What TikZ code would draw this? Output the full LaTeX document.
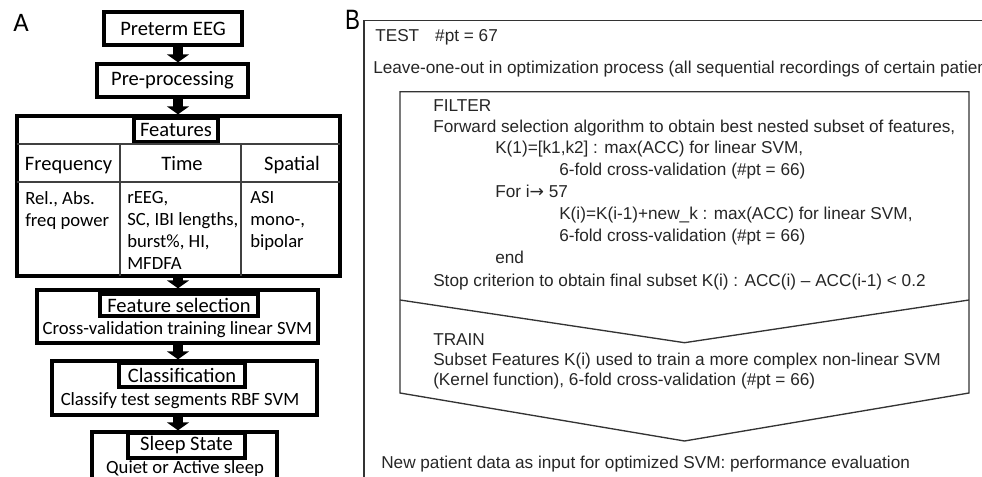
\documentclass[tikz,border=0pt]{standalone}
\usepackage{fontspec}
\setmainfont{Carlito}
\newfontfamily\arialfont{Liberation Sans}
\newfontfamily\arrowfont{DejaVu Sans}
\usepackage{tikz}
\usetikzlibrary{arrows.meta}
\newdimen\px
\px=0.75pt

\begin{document}
\begin{tikzpicture}[x=0.75pt,y=-0.75pt,inner sep=0pt,
  box/.style={draw,line width=2.5pt},
  hd/.style={font=\fontsize{15.4}{18}\selectfont},
  sub/.style={font=\fontsize{14}{16.5}\selectfont},
  btxt/.style={anchor=base west,text=black!85,font=\arialfont\fontsize{12.9}{15}\selectfont},
  bline/.style={black!80,line width=1pt},
  grid/.style={black!75,line width=1.2pt},
  fat/.style={line width=8pt,-{Triangle[width=16.5pt,length=6pt]}}]
\useasboundingbox (0,0) rectangle (982,477);
\clip (0,0) rectangle (982,477);
\coordinate (arr) at (178,0);
\node[font=\fontsize{20}{20}\selectfont] (labA) at (21,23.3) {A};
\node[box,hd,minimum width=138\px,minimum height=33\px] (eeg) at (173,28.5) {Preterm EEG};
\node[box,hd,minimum width=151\px,minimum height=33\px] (prepro) at (172.5,80.5) {Pre-processing};
\node[box,minimum width=323\px,minimum height=160\px] (feat) at (178.5,196) {};
\node[box,hd,minimum width=84\px,minimum height=24\px] (feattitle) at (176,130) {Features};
\draw[grid] (17,144) -- (340,144);
\draw[grid] (17,182) -- (340,182);
\draw[grid] (120,144) -- (120,276);
\draw[grid] (241,144) -- (241,276);
\node[hd,anchor=base] (freqhead) at (68.5,171) {Frequency};
\node[hd,anchor=base] (timehead) at (182,171) {Time};
\node[hd,anchor=base] (spathead) at (292,171) {Spatial};
\node[sub,align=left,anchor=north west] (freqcol) at (25,191) {Rel., Abs.\\freq power};
\node[sub,align=left,anchor=north west] (timecol) at (127,191) {rEEG,\\SC, IBI lengths,\\burst\%, HI,\\MFDFA};
\node[sub,align=left,anchor=north west] (spatcol) at (250,191) {ASI\\mono-,\\bipolar};
\node[box,minimum width=281\px,minimum height=53\px] (featsel) at (177.5,316.5) {};
\node[box,hd,minimum width=158\px,minimum height=22\px] (featseltitle) at (179,305) {Feature selection};
\node[sub] (featselsub) at (177.5,330) {Cross-validation training linear SVM};
\node[box,minimum width=265\px,minimum height=54\px] (class) at (184.5,388) {};
\node[box,hd,minimum width=126\px,minimum height=24\px] (classtitle) at (182,375) {Classification};
\node[sub] (classsub) at (180,401) {Classify test segments RBF SVM};
\node[box,minimum width=185\px,minimum height=60\px] (sleep) at (184.5,462) {};
\node[box,hd,minimum width=117\px,minimum height=25\px] (sleeptitle) at (186.5,445.5) {Sleep State};
\node[sub] (sleepsub) at (185,469) {Quiet or Active sleep};
\draw[fat] (eeg.south -| arr) -- (prepro.north -| arr);
\draw[fat] (prepro.south -| arr) -- (feat.north -| arr);
\draw[fat] (feat.south -| arr) -- (featsel.north -| arr);
\draw[fat] (featsel.south -| arr) -- (class.north -| arr);
\draw[fat] (class.south -| arr) -- (sleep.north -| arr);
\node[xscale=0.8,font=\arialfont\fontsize{21}{21}\selectfont] (labB) at (352.5,20) {B};
\draw[bline] (364,500) -- (364,20.7) -- (1000,20.7);
\draw[bline] (400,91.7) -- (969,91.7) -- (969,393) -- (684.5,441) -- (400,393) -- cycle;
\draw[bline] (400,300) -- (684.5,342.7) -- (969,300);
\node[btxt] (test) at (375,42) {TEST\hspace{12pt}\#pt = 67};
\node[btxt] (loo) at (373,74) {Leave-one-out in optimization process (all sequential recordings of certain patient};
\node[btxt] (filter) at (433,112) {FILTER};
\node[btxt] (fwd) at (433,133) {Forward selection algorithm to obtain best nested subset of features,};
\node[btxt] (kone) at (495,154) {K(1)=[k1,k2] : max(ACC) for linear SVM,};
\node[btxt] (cvone) at (559,176) {6-fold cross-validation (\#pt = 66)};
\node[btxt] (fori) at (495,198) {For i{\arrowfont →} 57};
\node[btxt] (ki) at (559,220) {K(i)=K(i-1)+new\_k : max(ACC) for linear SVM,};
\node[btxt] (cvtwo) at (559,242) {6-fold cross-validation (\#pt = 66)};
\node[btxt] (fend) at (495,264) {end};
\node[btxt] (stop) at (433,287) {Stop criterion to obtain final subset K(i) : ACC(i) – ACC(i-1) < 0.2};
\node[btxt] (train) at (433,345) {TRAIN};
\node[btxt] (subset) at (433,366) {Subset Features K(i) used to train a more complex non-linear SVM};
\node[btxt] (kernel) at (433,386) {(Kernel function), 6-fold cross-validation (\#pt = 66)};
\node[btxt] (newpt) at (381,468) {New patient data as input for optimized SVM: performance evaluation};
\end{tikzpicture}
\end{document}
